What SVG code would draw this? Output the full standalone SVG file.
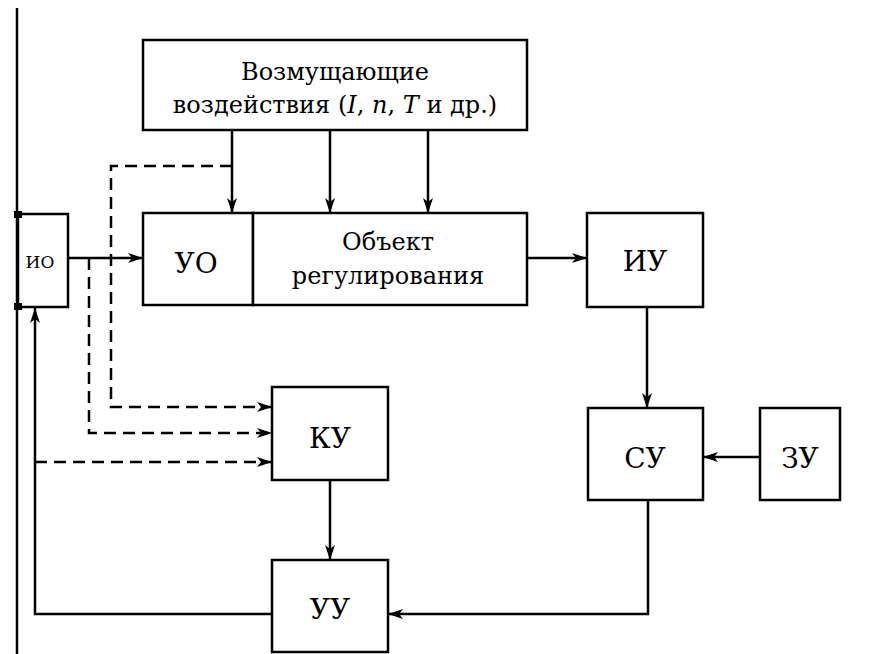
<svg xmlns="http://www.w3.org/2000/svg" width="875" height="654" viewBox="0 0 875 654">
<style>
.box{fill:#fff;stroke:#000;stroke-width:2.5}
.ln{fill:none;stroke:#000;stroke-width:2.5}
.ds{fill:none;stroke:#000;stroke-width:2.5;stroke-dasharray:12 7}
text{font-family:"DejaVu Serif","Liberation Serif",serif;font-size:24px;text-anchor:middle;fill:#000}
.lb{font-size:28px}
</style>
<defs>
<marker id="ah" viewBox="0 0 15 10" refX="15" refY="5" markerWidth="15" markerHeight="10" markerUnits="userSpaceOnUse" orient="auto">
<path d="M0,0 L15,5 L0,10 L4,5 Z" fill="#000"/>
</marker>
</defs>
<g id="connectors">
<line class="ln" x1="17" y1="8" x2="17" y2="654" stroke-width="3.5"/>
<line class="ln" x1="68" y1="258" x2="143" y2="258" marker-end="url(#ah)"/>
<line class="ln" x1="232" y1="130" x2="232" y2="213" marker-end="url(#ah)"/>
<line class="ln" x1="330" y1="130" x2="330" y2="213" marker-end="url(#ah)"/>
<line class="ln" x1="428" y1="130" x2="428" y2="213" marker-end="url(#ah)"/>
<line class="ln" x1="527" y1="258" x2="587" y2="258" marker-end="url(#ah)"/>
<line class="ln" x1="647" y1="307" x2="647" y2="408" marker-end="url(#ah)"/>
<line class="ln" x1="759" y1="457" x2="703" y2="457" marker-end="url(#ah)"/>
<polyline class="ln" points="648,500 648,614 388,614" marker-end="url(#ah)"/>
<line class="ln" x1="330" y1="480" x2="330" y2="560" marker-end="url(#ah)"/>
<polyline class="ln" points="272,614 35,614 35,308" marker-end="url(#ah)"/>
<polyline class="ds" points="232,166 111,166 111,407 272,407" marker-end="url(#ah)"/>
<polyline class="ds" points="89,258 89,433 272,433" marker-end="url(#ah)"/>
<line class="ds" x1="35" y1="462" x2="272" y2="462" marker-end="url(#ah)"/>
</g>
<g id="vozm">
<rect class="box" x="143" y="40" width="384" height="90"/>
<text x="335" y="80">Возмущающие</text>
<text x="335" y="113">воздействия (<tspan font-style="italic">I</tspan>, <tspan font-style="italic">n</tspan>, <tspan font-style="italic">T</tspan> и др.)</text>
</g>
<g id="io">
<rect class="box" x="18" y="214" width="50" height="93"/>
<rect x="14" y="211" width="8" height="7" fill="#000"/>
<rect x="14" y="303" width="8" height="7" fill="#000"/>
<text x="40" y="268" style="font-size:17px">ИО</text>
</g>
<g id="uo">
<rect class="box" x="143" y="213" width="110" height="92"/>
<text class="lb" x="196" y="273">УО</text>
</g>
<g id="obj">
<rect class="box" x="253" y="213" width="274" height="92"/>
<text x="388" y="250">Объект</text>
<text x="388" y="284">регулирования</text>
</g>
<g id="iu">
<rect class="box" x="587" y="213" width="116" height="94"/>
<text class="lb" x="645" y="271">ИУ</text>
</g>
<g id="ku">
<rect class="box" x="272" y="387" width="116" height="93"/>
<text class="lb" x="330" y="448">КУ</text>
</g>
<g id="su">
<rect class="box" x="588" y="408" width="115" height="92"/>
<text class="lb" x="645" y="468">СУ</text>
</g>
<g id="zu">
<rect class="box" x="760" y="408" width="80" height="92"/>
<text class="lb" x="800" y="468">ЗУ</text>
</g>
<g id="uu">
<rect class="box" x="272" y="560" width="116" height="92"/>
<text class="lb" x="330" y="619">УУ</text>
</g>
</svg>
